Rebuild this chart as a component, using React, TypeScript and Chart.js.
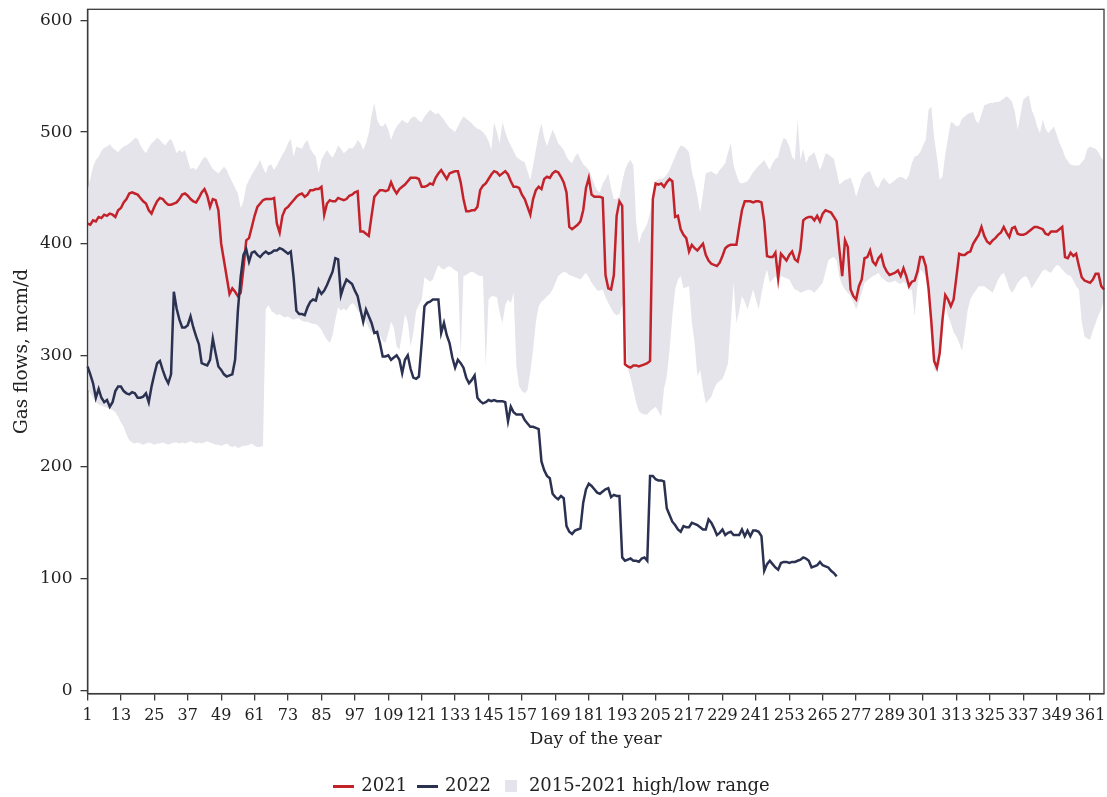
import React, { useEffect, useRef } from "react";
import { Chart, registerables } from "chart.js";

Chart.register(...registerables);

// Day-of-year categories (1..366)
const dayLabels: string[] = Array.from({ length: 366 }, (_, i) => String(i + 1));

const xTickLabels = ["1", "13", "25", "37", "49", "61", "73", "85", "97", "109", "121", "133", "145", "157", "169", "181", "193", "205", "217", "229", "241", "253", "265", "277", "289", "301", "313", "325", "337", "349", "361"];
const yTicks = [0, 100, 200, 300, 400, 500, 600];

const flows2021 = [
  418, 417, 421, 420, 424, 423, 426, 425, 427, 426,
  424, 430, 432, 437, 440, 445, 446, 445, 444, 441,
  438, 436, 430, 427, 433, 438, 441, 440, 437, 435,
  435, 436, 437, 440, 444, 445, 443, 440, 438, 437,
  441, 446, 449, 443, 433, 440, 439, 430, 400, 385,
  370, 355, 360, 357, 353, 356, 378, 403, 405, 415,
  425, 433, 436, 439, 440, 440, 440, 441, 418, 410,
  425, 431, 433, 436, 439, 442, 444, 445, 442, 444,
  448, 448, 449, 449, 451, 426, 436, 439, 438, 438,
  441, 440, 439, 440, 443, 444, 446, 447, 411, 411,
  409, 407, 425, 442, 445, 448, 448, 447, 448, 455,
  449, 445, 449, 451, 453, 456, 459, 459, 459, 458,
  451, 451, 452, 454, 453, 459, 463, 466, 462, 458,
  463, 464, 465, 465, 455, 440, 429, 429, 430, 430,
  433, 448, 452, 454, 458, 462, 465, 464, 461, 463,
  465, 462, 456, 451, 451, 450, 444, 440, 433, 426,
  440, 448, 451, 449, 458, 460, 459, 463, 465, 464,
  460, 455, 446, 415, 413, 415, 417, 420, 430, 450,
  459, 444, 442, 442, 442, 441, 372, 360, 359, 372,
  425, 438, 434, 292, 290, 289, 291, 291, 290, 291,
  292, 293, 295, 440, 454, 453, 454, 451, 455, 458,
  456, 424, 425, 413, 408, 405, 393, 399, 396, 394,
  397, 400, 390, 385, 382, 381, 380, 383, 389, 396,
  398, 399, 399, 399, 415, 430, 438, 438, 438, 437,
  438, 438, 437, 420, 389, 388, 388, 392, 369, 391,
  388, 385, 390, 393, 386, 384, 395, 421, 423, 424,
  424, 421, 425, 420, 427, 430, 429, 428, 424, 420,
  394, 371, 403, 397, 359, 353, 350, 362, 368, 387,
  388, 394, 384, 381, 387, 390, 380, 375, 372, 373,
  374, 376, 371, 378, 371, 362, 366, 367, 375, 388,
  388, 380, 360, 330, 295, 289, 302, 332, 354, 350,
  344, 350, 370, 391, 390, 390, 392, 393, 400, 404,
  408, 415, 407, 402, 400, 403, 405, 408, 410, 415,
  410, 406, 414, 415, 409, 408, 408, 409, 411, 413,
  415, 415, 414, 413, 409, 408, 411, 411, 411, 413,
  415, 388, 387, 392, 389, 391, 380, 370, 367, 366,
  365, 368, 373, 373, 362, 359,
];

const flows2022 = [
  290, 283, 275, 262, 270, 262, 258, 260, 254, 258,
  268, 272, 272, 268, 266, 265, 267, 266, 262, 262,
  263, 266, 258, 272, 283, 293, 295, 287, 280, 275,
  283, 357, 342, 332, 325, 325, 327, 335, 325, 317,
  310, 293, 292, 291, 296, 315, 302, 290, 287, 283,
  281, 282, 283, 296, 340, 370, 390, 395, 384, 392,
  393, 390, 388, 391, 393, 391, 392, 394, 394, 396,
  395, 393, 391, 393, 370, 340, 337, 337, 336, 343,
  348, 350, 349, 359, 355, 358, 363, 369, 375, 387,
  386, 354, 362, 368, 366, 364, 358, 353, 341, 330,
  341, 335, 329, 320, 321, 311, 299, 299, 300, 296,
  298, 300, 296, 284, 296, 300, 288, 280, 279, 281,
  311, 344, 347, 348, 350, 350, 350, 320, 329, 318,
  311, 298, 289, 296, 293, 289, 280, 275, 278, 282,
  262, 259, 257, 258, 260, 259, 260, 259, 259, 259,
  258, 241, 254, 249, 247, 247, 247, 242, 239, 236,
  236, 235, 234, 205, 197, 192, 190, 176, 173, 171,
  174, 172, 147, 142, 140, 143, 144, 145, 168, 180,
  185, 183, 180, 177, 176, 178, 180, 181, 173, 175,
  174, 174, 119, 116, 117, 118, 116, 116, 115, 118,
  119, 116, 192, 192, 189, 188, 188, 187, 163, 157,
  151, 148, 144, 142, 147, 146, 146, 150, 149, 148,
  146, 144, 144, 153, 150, 145, 139, 141, 144, 139,
  141, 142, 139, 139, 139, 144, 138, 143, 138, 143,
  143, 142, 138, 107, 113, 116, 113, 110, 108, 114,
  115, 115, 114, 115, 115, 116, 117, 119, 118, 116,
  110, 111, 112, 115, 112, 111, 110, 107, 105, 102,
];

const rangeHigh = [
  448, 458, 469, 475, 478, 483, 486, 487, 489, 486,
  484, 482, 485, 487, 488, 490, 492, 495, 494, 488,
  484, 481, 486, 490, 492, 495, 493, 490, 488, 492,
  494, 488, 481, 484, 482, 484, 475, 467, 468, 466,
  470, 474, 478, 476, 471, 467, 465, 463, 466, 469,
  466, 460, 455, 450, 445, 432, 438, 452, 457, 462,
  466, 470, 475, 468, 463, 470, 471, 466, 470, 475,
  480, 484, 490, 494, 478, 487, 486, 485, 490, 493,
  485, 481, 478, 463, 475, 480, 484, 480, 477, 482,
  488, 485, 481, 483, 486, 485, 488, 493, 490, 484,
  490, 499, 515, 526, 511, 506, 505, 508, 502, 493,
  500, 505, 508, 511, 509, 508, 512, 514, 513, 510,
  509, 514, 517, 520, 518, 516, 517, 514, 511, 507,
  504, 502, 500, 505, 510, 514, 512, 510, 508, 505,
  503, 502, 500, 497, 492, 484, 509, 500, 490, 509,
  500, 493, 488, 483, 478, 476, 474, 473, 465, 457,
  470, 484, 498, 508, 495, 487, 495, 502, 497, 490,
  487, 484, 478, 474, 472, 478, 481, 476, 471, 469,
  466, 460, 453, 448, 446, 454, 458, 463, 450, 440,
  440, 442, 455, 466, 472, 475, 470, 420, 400, 409,
  413, 418, 428, 440, 456, 458, 458, 459, 462, 466,
  472, 478, 484, 488, 487, 485, 482, 465, 455, 442,
  428, 445, 463, 464, 465, 463, 462, 466, 469, 472,
  482, 490, 470, 462, 455, 454, 455, 456, 460, 464,
  467, 470, 472, 475, 470, 466, 472, 476, 478, 488,
  495, 493, 487, 478, 475, 511, 475, 485, 472, 478,
  480, 482, 474, 466, 472, 481, 480, 478, 476, 465,
  453, 455, 457, 458, 459, 452, 442, 450, 458, 462,
  464, 465, 458, 452, 450, 456, 459, 456, 453, 455,
  457, 459, 460, 459, 457, 462, 472, 478, 479, 482,
  488, 493, 520, 523, 495, 478, 457, 460, 480, 495,
  509, 508, 505, 506, 512, 514, 516, 517, 518, 510,
  508, 516, 524, 525, 526, 526, 527, 527, 528, 530,
  532, 530, 527, 518, 502, 515, 529, 531, 533, 520,
  514, 505, 499, 511, 503, 499, 502, 505, 498, 490,
  485, 478, 474, 471, 470, 470, 470, 473, 476, 485,
  487, 486, 485, 482, 477, 474,
];

const rangeLow = [
  270, 266, 262, 258, 256, 255, 254, 253, 252, 251,
  249, 245, 240, 236, 229, 224, 222, 221, 222, 221,
  220, 221, 222, 221, 220, 221, 221, 222, 221, 220,
  221, 222, 222, 221, 222, 221, 222, 223, 222, 221,
  222, 221, 222, 223, 222, 221, 220, 220, 219, 220,
  221, 219, 218, 219, 217, 218, 219, 219, 220, 221,
  219, 218, 218, 219, 341, 345, 340, 338, 336, 337,
  335, 334, 335, 333, 332, 333, 333, 331, 330, 330,
  329, 328, 328, 326, 323, 318, 314, 311, 318, 332,
  343, 340, 342, 340, 344, 347, 345, 340, 338, 335,
  330, 325, 320, 323, 320, 318, 313, 311, 320, 330,
  325, 308, 305, 320, 337, 330, 308, 320, 340, 345,
  350, 370, 368, 366, 368, 375, 381, 378, 377, 379,
  380, 378, 376, 375, 300, 371, 372, 374, 375, 374,
  372, 371, 371, 290, 350, 353, 353, 352, 338, 329,
  345, 350, 347, 356, 290, 272, 268, 266, 269, 285,
  305, 330, 344, 348, 350, 353, 355, 359, 365, 371,
  373, 375, 374, 372, 371, 370, 369, 368, 371, 374,
  370, 365, 362, 358, 358, 359, 352, 347, 342, 338,
  336, 337, 345, 340, 288, 280, 269, 258, 250, 248,
  247, 247, 250, 252, 254, 250, 245, 270, 281, 305,
  335, 359, 368, 371, 360, 361, 362, 330, 311, 281,
  287, 270, 257, 260, 263, 270, 275, 277, 279, 285,
  293, 330, 365, 329, 340, 353, 348, 341, 350, 359,
  350, 341, 355, 368, 377, 365, 368, 371, 366, 371,
  370, 369, 368, 363, 359, 358, 356, 357, 358, 359,
  358, 356, 359, 362, 365, 375, 385, 387, 388, 385,
  370, 363, 359, 356, 353, 348, 341, 348, 356, 365,
  367, 369, 371, 372, 374, 370, 368, 366, 365, 366,
  367, 365, 364, 366, 364, 358, 359, 335, 362, 377,
  375, 370, 355, 314, 287, 285, 292, 320, 347, 335,
  329, 321, 317, 311, 304, 320, 340, 350, 355, 358,
  362, 362, 362, 360, 358, 356, 362, 368, 372, 374,
  368, 360, 356, 360, 365, 368, 370, 371, 367, 360,
  364, 368, 372, 376, 377, 375, 374, 378, 381, 380,
  377, 374, 372, 371, 367, 362, 359, 330, 317, 315,
  314, 322, 329, 336, 341, 350,
];

const RED = "#c4222b";
const NAVY = "#2b3151";
const BAND = "#e4e4ea";
const AXIS = "#3a3a3a";
const TEXT = "#222222";
const FONT = "'DejaVu Serif', serif";

function glyph(w: number, h: number, color: string): HTMLCanvasElement {
  const c = document.createElement("canvas");
  c.width = w;
  c.height = h;
  const g = c.getContext("2d")!;
  g.fillStyle = color;
  g.fillRect(0, 0, w, h);
  return c;
}

const framePlugin = {
  id: "frame",
  afterDraw(chart: any) {
    const { ctx, chartArea: a } = chart;
    ctx.save();
    ctx.strokeStyle = AXIS;
    ctx.lineWidth = 1.3;
    ctx.strokeRect(a.left, a.top, a.right - a.left, a.bottom - a.top);
    ctx.restore();
  },
};

export default function App() {
  const ref = useRef<HTMLCanvasElement>(null);

  useEffect(() => {
    const canvas = ref.current;
    if (!canvas) return;
    const chart = new Chart(canvas, {
      type: "line",
      data: {
        labels: dayLabels,
        datasets: [
          {
            label: "2021",
            data: flows2021,
            borderColor: RED,
            backgroundColor: RED,
            borderWidth: 2.5,
            pointRadius: 0,
            pointStyle: glyph(21, 3, RED) as any,
            fill: false,
            order: 1,
          },
          {
            label: "2022",
            data: flows2022,
            borderColor: NAVY,
            backgroundColor: NAVY,
            borderWidth: 2.5,
            pointRadius: 0,
            pointStyle: glyph(21, 3, NAVY) as any,
            fill: false,
            order: 0,
          },
          {
            label: "2015-2021 high/low range",
            data: rangeHigh,
            borderColor: "rgba(0,0,0,0)",
            backgroundColor: BAND,
            borderWidth: 0,
            pointRadius: 0,
            pointStyle: glyph(12, 12, BAND) as any,
            fill: "+1",
            order: 5,
          },
          {
            label: "low",
            data: rangeLow,
            borderColor: "rgba(0,0,0,0)",
            backgroundColor: BAND,
            borderWidth: 0,
            pointRadius: 0,
            fill: false,
            order: 6,
          },
        ],
      },
      options: {
        animation: false,
        responsive: true,
        maintainAspectRatio: false,
        events: [],
        layout: { padding: { top: 9.3, right: 3, left: 0, bottom: 0 } },
        plugins: {
          legend: {
            position: "bottom",
            labels: {
              usePointStyle: true,
              pointStyleWidth: 18,
              padding: 11,
              color: TEXT,
              font: { family: FONT, size: 18 },
              filter: (item: any) => item.text !== "low",
              sort: (a: any, b: any) => a.datasetIndex - b.datasetIndex,
            },
          },
          tooltip: { enabled: false },
        },
        scales: {
          x: {
            type: "category",
            offset: false,
            grid: { drawOnChartArea: false, drawTicks: true, tickLength: 7, color: AXIS, lineWidth: 1.3 },
            border: { display: true, color: AXIS, width: 1.4 },
            ticks: {
              autoSkip: false,
              maxRotation: 0,
              minRotation: 0,
              padding: 6,
              color: TEXT,
              font: { family: FONT, size: 16 },
              callback: (_v: any, index: number) => {
                const l = dayLabels[index];
                return xTickLabels.includes(l) ? l : null;
              },
            },
            title: {
              display: true,
              text: "Day of the year",
              color: TEXT,
              font: { family: FONT, size: 17 },
              padding: { top: 4, bottom: 16 },
            },
            afterFit: (s: any) => {
              s.height = 72.4;
              s.paddingLeft = 0;
              s.paddingRight = 0;
            },
          },
          y: {
            min: -3,
            max: 610,
            grid: { drawOnChartArea: false, drawTicks: true, tickLength: 7, color: AXIS, lineWidth: 1.3 },
            border: { display: true, color: AXIS, width: 1.4 },
            ticks: {
              padding: 8,
              color: TEXT,
              font: { family: FONT, size: 17 },
            },
            afterBuildTicks: (s: any) => {
              s.ticks = yTicks.map((v) => ({ value: v }));
            },
            title: {
              display: true,
              text: "Gas flows, mcm/d",
              color: TEXT,
              font: { family: FONT, size: 18.5 },
              padding: { top: 11, bottom: 0 },
            },
            afterFit: (s: any) => {
              s.width = 87.5;
              s.paddingTop = 0;
              s.paddingBottom = 0;
            },
          },
        },
      } as any,
      plugins: [framePlugin],
    });
    return () => chart.destroy();
  }, []);

  return (
    <div style={{ position: "fixed", left: 0, top: 0, width: 1107, height: 805, background: "#ffffff" }}>
      <canvas ref={ref} style={{ display: "block" }} />
    </div>
  );
}
